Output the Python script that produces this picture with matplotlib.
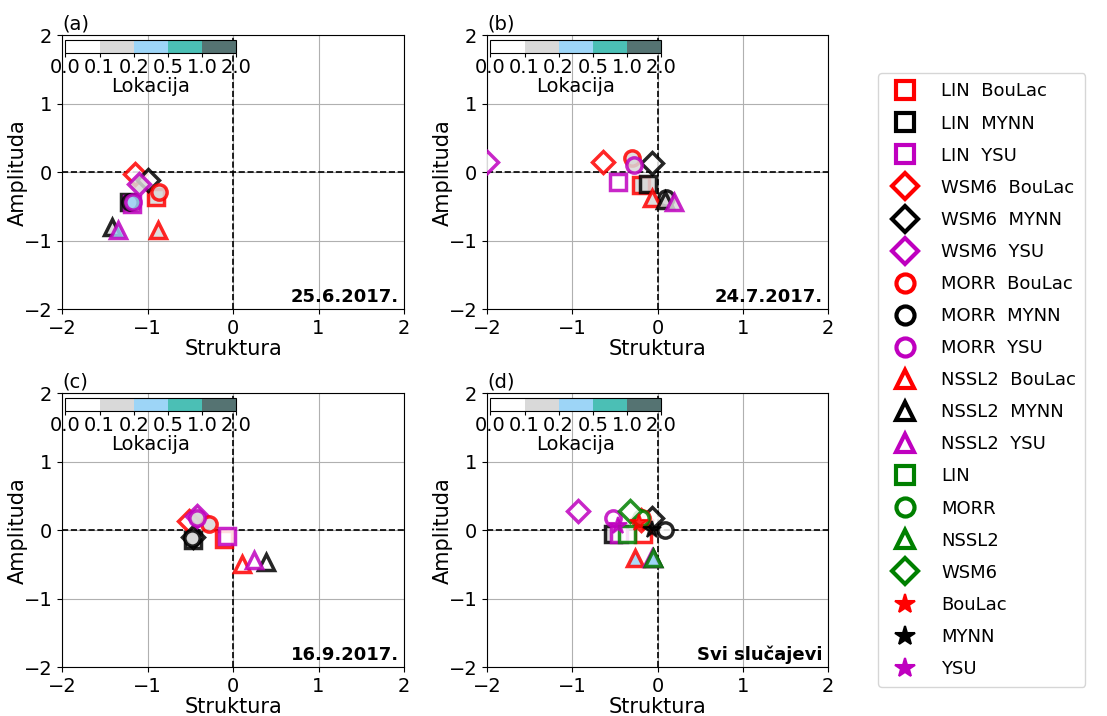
import numpy as np
import matplotlib.pyplot as plt
from matplotlib.colors import ListedColormap, BoundaryNorm
from matplotlib.cm import ScalarMappable
from matplotlib.lines import Line2D

# ===== postavke =====
mikrofizika = ['LIN', 'WSM6', 'MORR', 'NSSL2']
pbl = ['BouLac', 'MYNN', 'YSU']
markeri = {'LIN': 's', 'WSM6': 'D', 'MORR': 'o', 'NSSL2': '^'}
boje_pbl = {'BouLac': 'red', 'MYNN': 'black', 'YSU': 'm'}

# redoslijed: LIN BouLac, LIN MYNN, LIN YSU, WSM6 ..., MORR ..., NSSL2 ...
# (a) 25.6.2017.
S_a = [-0.90, -1.22, -1.18, -1.15, -1.00, -1.10, -0.87, -1.20, -1.17, -0.88, -1.41, -1.34]
A_a = [-0.36, -0.43, -0.46, -0.03, -0.12, -0.17, -0.29, -0.43, -0.43, -0.84, -0.80, -0.84]
L_a = [0.15, 0.15, 0.15, 0.05, 0.05, 0.15, 0.15, 0.15, 0.25, 0.15, 0.15, 0.30]
# (b) 24.7.2017.
S_b = [-0.20, -0.11, -0.46, -0.64, -0.06, -2.00, -0.30, 0.10, -0.28, -0.06, 0.09, 0.19]
A_b = [-0.19, -0.17, -0.14, 0.15, 0.14, 0.15, 0.20, -0.38, 0.10, -0.38, -0.41, -0.43]
L_b = [0.15, 0.15, 0.05, 0.05, 0.05, 0.05, 0.15, 0.15, 0.15, 0.15, 0.15, 0.15]
# (c) 16.9.2017.
S_c = [-0.10, -0.47, -0.07, -0.51, -0.47, -0.42, -0.28, -0.48, -0.42, 0.10, 0.39, 0.25]
A_c = [-0.13, -0.15, -0.08, 0.13, -0.10, 0.21, 0.09, -0.11, 0.18, -0.49, -0.47, -0.44]
L_c = [0.05, 0.15, 0.05, 0.05, 0.15, 0.15, 0.15, 0.15, 0.15, 0.05, 0.05, 0.05]
# (d) svi slucajevi
S_d = [-0.17, -0.52, -0.45, -0.20, -0.07, -0.93, -0.18, 0.09, -0.52, -0.26, -0.05, -0.06]
A_d = [-0.06, -0.06, -0.05, 0.15, 0.18, 0.28, 0.18, 0.01, 0.18, -0.40, -0.40, -0.40]
L_d = [0.05, 0.15, 0.05, 0.05, 0.05, 0.05, 0.05, 0.05, 0.05, 0.30, 0.30, 0.30]
# (d) srednjaci po mikrofizici (LIN, MORR, NSSL2, WSM6) i po PBL shemi
mf_imena = ['LIN', 'MORR', 'NSSL2', 'WSM6']
S_mf = [-0.36, -0.20, -0.05, -0.32]
A_mf = [-0.06, 0.18, -0.40, 0.28]
L_mf = [0.05, 0.05, 0.30, 0.05]
S_pbl = [-0.22, -0.07, -0.46]
A_pbl = [0.11, 0.01, 0.06]

paneli = [
    ('(a)', '25.6.2017.', S_a, A_a, L_a),
    ('(b)', '24.7.2017.', S_b, A_b, L_b),
    ('(c)', '16.9.2017.', S_c, A_c, L_c),
    ('(d)', 'Svi slučajevi', S_d, A_d, L_d),
]

granice = [0.0, 0.1, 0.2, 0.5, 1.0, 2.0]
cmap = ListedColormap(['white', '#d9d9d9', '#9dd5f7', '#4bbfb5', '#557372'])
norm = BoundaryNorm(granice, cmap.N)

ms = 11
mew = 2.5
alfa = 0.85

fig = plt.figure(figsize=(11.07, 7.16), dpi=100)
pozicije = [
    [0.056, 0.568, 0.309, 0.383],
    [0.440, 0.568, 0.308, 0.383],
    [0.056, 0.068, 0.309, 0.383],
    [0.440, 0.068, 0.308, 0.383],
]

for pos, (slovo, naslov, S, A, L) in zip(pozicije, paneli):
    ax = fig.add_axes(pos)
    ax.set_xlim(-2, 2)
    ax.set_ylim(-2, 2)
    ax.grid(True, color='#b0b0b0', linewidth=0.8)
    ax.axhline(0, color='black', linestyle='--', linewidth=1.2)
    ax.axvline(0, color='black', linestyle='--', linewidth=1.2)
    ax.set_xticks([-2, -1, 0, 1, 2])
    ax.set_yticks([-2, -1, 0, 1, 2])
    ax.tick_params(labelsize=14)
    ax.set_xlabel('Struktura', fontsize=15, labelpad=1)
    ax.set_ylabel('Amplituda', fontsize=15, labelpad=-3)
    ax.text(0.0, 1.005, slovo, transform=ax.transAxes, fontsize=14,
            ha='left', va='bottom')
    ax.text(0.985, 0.012, naslov, transform=ax.transAxes, fontsize=13,
            fontweight='bold', ha='right', va='bottom')

    i = 0
    for mf in mikrofizika:
        for p in pbl:
            ax.plot(S[i], A[i], marker=markeri[mf], markersize=ms,
                    markeredgewidth=mew, markeredgecolor=boje_pbl[p],
                    markerfacecolor=cmap(norm(L[i])), alpha=alfa,
                    linestyle='none', zorder=3)
            i += 1

    if slovo == '(d)':
        for j, mf in enumerate(mf_imena):
            ax.plot(S_mf[j], A_mf[j], marker=markeri[mf], markersize=ms,
                    markeredgewidth=mew, markeredgecolor='green',
                    markerfacecolor=cmap(norm(L_mf[j])), alpha=alfa,
                    linestyle='none', zorder=4)
        for j, p in enumerate(pbl):
            ax.plot(S_pbl[j], A_pbl[j], marker='*', markersize=ms + 2,
                    markeredgewidth=1.5, markeredgecolor=boje_pbl[p],
                    markerfacecolor=boje_pbl[p], alpha=alfa,
                    linestyle='none', zorder=5)

    # kolorbar za lokaciju
    cax = ax.inset_axes([0.01, 0.935, 0.5, 0.048])
    cb = fig.colorbar(ScalarMappable(norm=norm, cmap=cmap), cax=cax,
                      orientation='horizontal', ticks=granice,
                      spacing='uniform')
    cb.ax.set_xticklabels(['0.0', '0.1', '0.2', '0.5', '1.0', '2.0'])
    cb.ax.tick_params(labelsize=14, length=3, pad=1)
    cb.set_label('Lokacija', fontsize=14, labelpad=0)

# legenda
rukice = []
for mf in mikrofizika:
    for p in pbl:
        rukice.append(Line2D([], [], marker=markeri[mf], linestyle='none',
                             markersize=13, markeredgewidth=3,
                             markeredgecolor=boje_pbl[p], markerfacecolor='white',
                             label=f'{mf}  {p}'))
for mf in mf_imena:
    rukice.append(Line2D([], [], marker=markeri[mf], linestyle='none',
                         markersize=13, markeredgewidth=3,
                         markeredgecolor='green', markerfacecolor='white',
                         label=mf))
for p in pbl:
    rukice.append(Line2D([], [], marker='*', linestyle='none',
                         markersize=15, markeredgewidth=1.5,
                         markeredgecolor=boje_pbl[p], markerfacecolor=boje_pbl[p],
                         label=p))

fig.legend(handles=rukice, loc='upper left', bbox_to_anchor=(0.785, 0.91),
           fontsize=13, labelspacing=0.78, handletextpad=1.0,
           borderpad=0.5, frameon=True)

plt.savefig('out.png', dpi=100)
